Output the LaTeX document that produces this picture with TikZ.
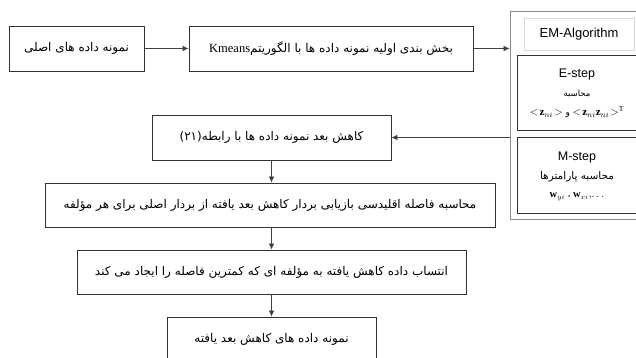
\documentclass[tikz,border=0pt]{standalone}
\usepackage{fontspec}
\setmainfont{Liberation Serif}
\newfontfamily\arabicfont[Script=Arabic]{DejaVu Sans}
\newfontfamily\arialfont{Liberation Sans}
\TeXXeTstate=1
\usetikzlibrary{arrows.meta}
\begin{document}
\begin{tikzpicture}[x=1pt,y=-1pt,
  box/.style={draw=black!80,line width=0.8pt,inner sep=0pt,align=center,font=\arabicfont\fontsize{12}{14}\selectfont},
  embox/.style={draw=black!45,line width=0.8pt,inner sep=0pt},
  lblbox/.style={draw=black!15,line width=0.6pt,inner sep=0pt,font=\arialfont\fontsize{13}{15}\selectfont},
  stepbox/.style={draw=black!80,line width=0.8pt,inner sep=0pt},
  arr/.style={draw=black!75,line width=0.7pt,-{Latex[length=6pt,width=5.5pt]}}]
\useasboundingbox (0,0) rectangle (636,358);
\clip (0,0) rectangle (636,358);
% main boxes
\node[box,minimum width=135pt,minimum height=45pt] (A) at (76.5,48.5) {\beginR نمونه داده های اصلی\endR};
\node[box,minimum width=284pt,minimum height=45pt] (B) at (331,48.5) {\beginR بخش بندی اولیه نمونه داده ها با الگوریتم\beginL{\rmfamily\fontsize{12.5}{14}\selectfont Kmeans}\endL\endR};
\node[embox,minimum width=130pt,minimum height=208pt] (EM) at (575,115) {};
\node[lblbox,minimum width=110pt,minimum height=32pt] (EML) at (579,34) {EM-Algorithm};
\node[stepbox,minimum width=121pt,minimum height=75pt] (ES) at (577.5,92.5) {};
\node[stepbox,minimum width=121pt,minimum height=76pt] (MS) at (577.5,175) {};
\node[font=\arialfont\fontsize{12.5}{14}\selectfont,inner sep=0pt] (EST) at (577,74) {E-step};
\node[font=\arabicfont\fontsize{8.5}{10}\selectfont,inner sep=0pt] (ESA) at (577,94) {\beginR محاسبه\endR};
\node[font=\fontsize{11}{13}\selectfont,inner sep=0pt] (ESF) at (577,112) {$<\!\mathbf{z}_{ni}\!>$ {\arabicfont\fontsize{9}{10}\selectfont و} $<\!\mathbf{z}_{ni}\mathbf{z}_{ni}\!>^{\mathrm{T}}$};
\node[font=\arialfont\fontsize{12.5}{14}\selectfont,inner sep=0pt] (MST) at (577,157) {M-step};
\node[font=\arabicfont\fontsize{10.5}{12}\selectfont,inner sep=0pt] (MSA) at (577,177) {\beginR محاسبه پارامترها\endR};
\node[font=\fontsize{10.5}{12}\selectfont,inner sep=0pt] (MSF) at (577,197) {$\mathbf{w}_{yi}$ {\arabicfont\fontsize{9}{10}\selectfont ،} $\mathbf{w}_{xi},\!\ldots$};
\node[box,minimum width=239pt,minimum height=45pt] (C) at (271.5,137.5) {\beginR کاهش بعد نمونه داده ها با رابطه\beginL(۲۱)\endL\endR};
\node[box,minimum width=450pt,minimum height=44pt] (D) at (270,205) {\beginR محاسبه فاصله اقلیدسی بازیابی بردار کاهش بعد یافته از بردار اصلی برای هر مؤلفه\endR};
\node[box,minimum width=389pt,minimum height=44pt] (E) at (271.5,272) {\beginR انتساب داده کاهش یافته به مؤلفه ای که کمترین فاصله را ایجاد می کند\endR};
\node[box,minimum width=209pt,minimum height=45pt] (F) at (271.5,339.5) {\beginR نمونه داده های کاهش بعد یافته\endR};
% connectors
\draw[arr] (A.east) -- (B.west);
\draw[arr] (B.east) -- (B.east -| EM.west);
\draw[arr] (C.east -| EM.west) -- (C.east);
\draw[arr] (C.south) -- (C.south |- D.north);
\draw[arr] (C.south |- D.south) -- (E.north);
\draw[arr] (E.south) -- (F.north);
\end{tikzpicture}
\end{document}
